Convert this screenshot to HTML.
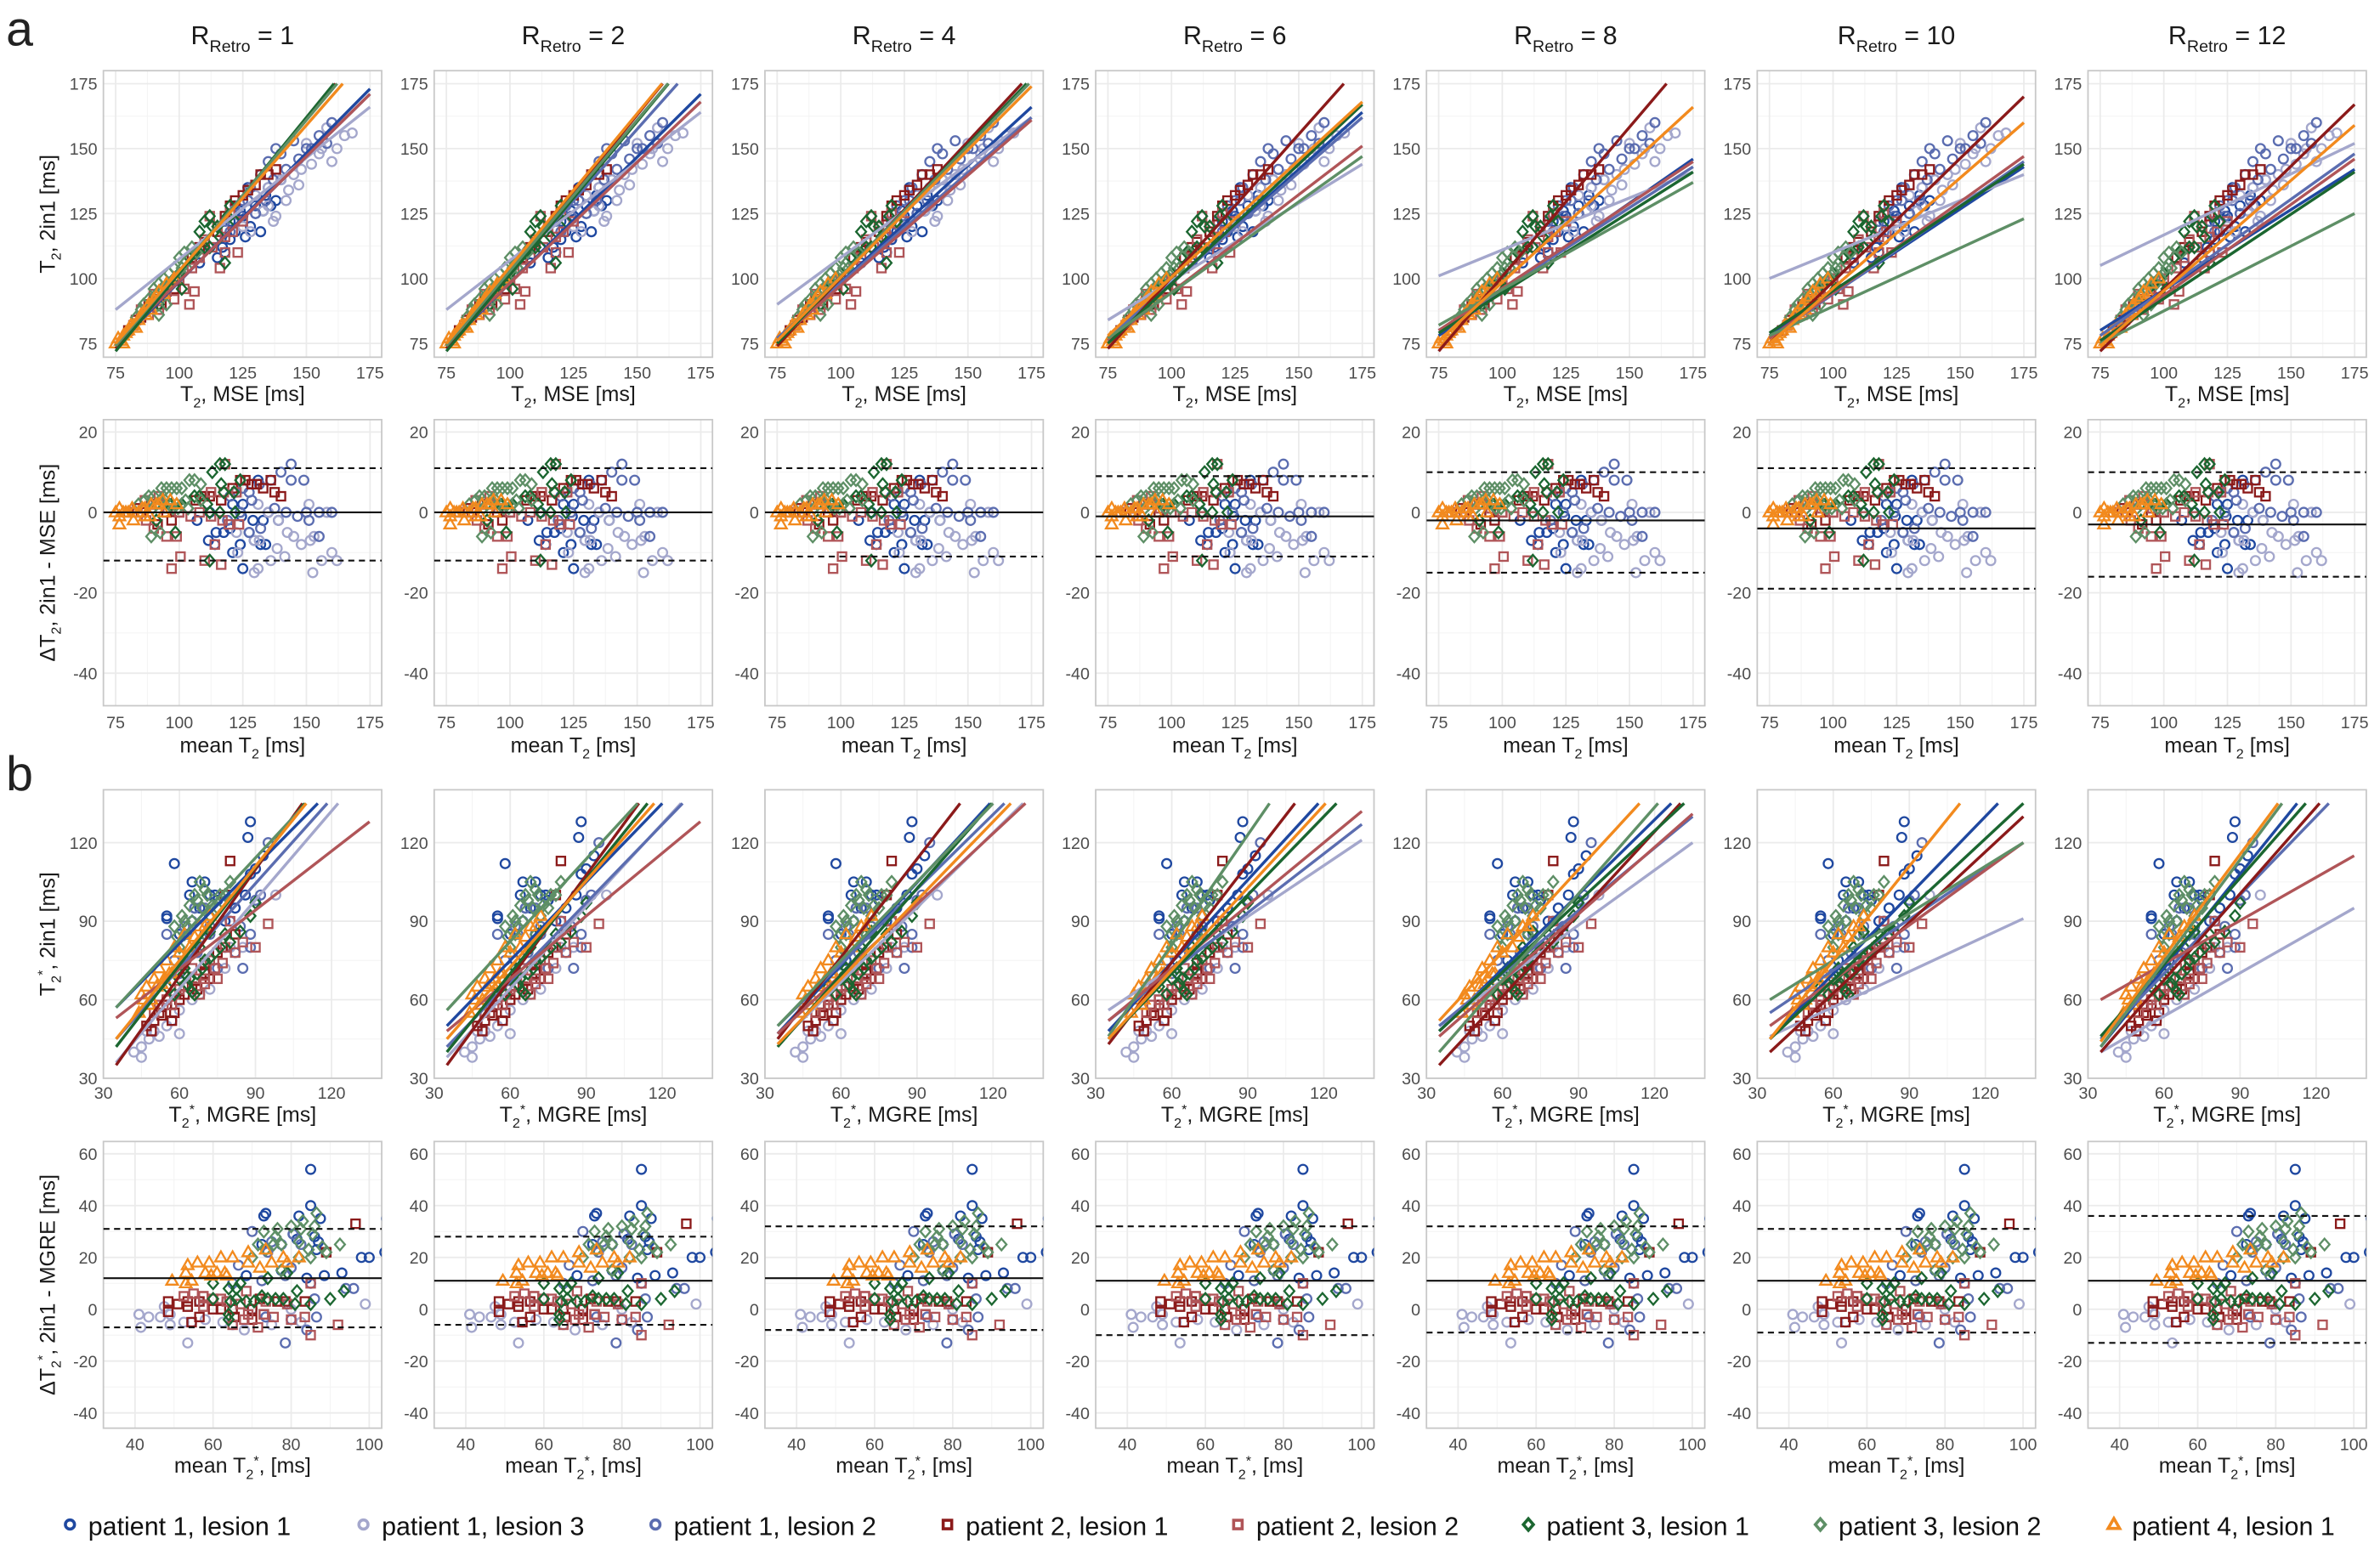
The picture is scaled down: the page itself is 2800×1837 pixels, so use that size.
<!DOCTYPE html>
<html><head><meta charset="utf-8">
<style>
html,body{margin:0;padding:0;background:#fff;}
svg{display:block;}
text{font-family:"Liberation Sans",sans-serif;}
</style></head>
<body>
<svg id="fig" xmlns="http://www.w3.org/2000/svg" width="2800" height="1837" viewBox="0 0 1565 1027" preserveAspectRatio="none">
<rect width="1565" height="1027" fill="#fff"/>
<text x="4" y="30" font-size="32" fill="#222">a</text>
<text x="4" y="520" font-size="32" fill="#222">b</text>
<g id="plots"></g>
<g id="legend"></g>
</svg>
<script>
// ---- data ----
const seriesNames = ["patient 1, lesion 1","patient 1, lesion 3","patient 1, lesion 2","patient 2, lesion 1","patient 2, lesion 2","patient 3, lesion 1","patient 3, lesion 2","patient 4, lesion 1"];
const seriesColors = ["#1f48a0","#a4a7cc","#5b6db0","#8b1a1a","#b05558","#1b6630","#5e8f66","#f28a1e"];
const seriesShapes = ["circle","circle","circle","square","square","diamond","diamond","triangle"];
const rValues = [1,2,4,6,8,10,12];

// T2 points (x: MSE, y: 2in1)
const t2X = [
 [108,112,118,122,125,128,130,133,135,138,127,120, 115,120,126,130,132,134,136,140,124,117],
 [120,125,130,135,140,145,148,150,155,160,165,158,142,137, 128,133,138,143,147,152,156,162,168,135],
 [118,122,128,132,135,138,140,145,150,155,130,125, 120,124,127,134,137,142,147,152,158,160],
 [80,85,90,100,108,115,120,125,130,135,138,95, 83,88,93,98,105,110,118,122,127,132],
 [82,88,92,98,102,104,106,110,112,116,118,123,115,120, 85,90,95,100,105,108,113,118,121,125],
 [90,95,98,100,104,108,110,112,115,118,120,112, 92,96,101,103,106,110,113,116,119,122],
 [85,88,90,92,94,96,98,100,102,95,92,105, 83,86,89,91,93,97,99,101,103,107],
 [75,77,78,80,82,84,86,88,90,92,95,98, 76,78,79,81,83,85,87,89,91,94]];
const t2Y = [
 [106,112,110,118,124,120,128,126,135,130,135,115, 108,122,116,125,118,132,128,138,126,112],
 [125,120,132,128,138,140,142,152,148,145,155,158,130,122, 118,126,124,134,136,144,150,150,156,135],
 [122,128,135,140,145,150,148,153,150,155,125,130, 118,124,130,130,138,142,146,150,152,160],
 [80,85,92,100,112,118,128,132,136,140,142,95, 84,90,90,96,108,114,124,130,134,140],
 [82,86,88,92,96,90,95,115,124,104,110,110,120,125, 88,94,96,100,104,108,112,116,118,122],
 [92,97,100,102,108,118,122,124,120,106,128,112, 90,98,96,104,110,112,120,116,124,122],
 [88,92,96,98,100,102,104,108,110,90,86,112, 85,90,90,94,96,98,100,104,104,110],
 [75,76,78,80,82,84,87,90,92,95,98,100, 77,75,79,82,81,86,86,88,93,94]];
// T2* points (x: MGRE, y: 2in1)
const t2sX = [
 [55,55,58,88,87,65,70,60,68,72,75,88, 62,66,70,74,78,82,86,90,93,64],
 [45,45,48,50,55,60,55,62,70,75,80,98, 42,47,52,57,60,65,68,72,78,85],
 [55,62,65,70,75,82,88,85,90,95,60,72, 58,63,67,72,78,80,84,88,92,66],
 [47,50,52,55,60,70,75,80,65,72,58,78, 49,53,57,62,67,70,74,77,82,55],
 [50,55,62,70,75,78,95,65,72,58,80,68, 52,57,60,66,70,74,77,82,85,90],
 [55,60,62,65,66,70,74,78,90,62,68,72, 58,63,67,69,72,76,80,84,88,64],
 [60,62,64,66,68,70,72,75,58,65,70,76, 59,61,63,67,69,71,73,78,80,62],
 [45,47,50,52,55,58,62,68,72,48,53,57, 44,46,49,51,54,56,60,64,66,70]];
const t2sY = [
 [92,91,112,128,122,105,105,85,95,100,98,108, 75,95,85,100,90,95,100,110,115,100],
 [38,42,45,48,50,47,58,65,70,72,80,100, 40,48,46,52,56,60,62,64,72,80],
 [85,88,90,95,72,78,80,72,98,120,70,85, 75,85,78,88,80,90,88,85,100,95],
 [50,52,55,58,60,74,78,113,65,68,55,100, 48,54,52,62,64,70,72,80,85,60],
 [55,60,65,68,68,80,89,72,75,62,90,62, 58,58,64,68,66,72,74,78,82,80],
 [65,68,70,63,62,75,78,85,97,72,80,86, 62,66,70,72,76,80,82,86,92,68],
 [80,85,96,100,105,102,92,95,88,90,85,100, 84,92,88,98,95,100,96,100,105,90],
 [62,65,68,72,75,80,85,88,92,58,66,70, 55,60,60,65,68,70,78,80,84,88]];

// regression lines, T2 rows: slope and value at x=75, per column
const t2Slope = [
 [0.99,0.78,0.96,1.18,0.96,1.2,1.16,1.12],
 [0.97,0.76,1.1,1.2,0.93,1.18,1.16,1.18],
 [0.9,0.72,0.85,1.05,0.85,1.02,1.0,0.98],
 [0.88,0.6,0.85,1.1,0.75,0.92,0.7,0.9],
 [0.68,0.4,0.63,1.15,0.65,0.62,0.55,0.9],
 [0.65,0.4,0.68,0.95,0.7,0.65,0.45,0.85],
 [0.62,0.47,0.7,0.95,0.7,0.65,0.5,0.85]];
const t2At75 = [
 [74,88,75,73,75,72,74,75],
 [74,88,75,73,75,72,74,75],
 [76,90,77,74,76,75,76,76],
 [76,84,77,73,76,75,77,78],
 [78,101,80,72,80,79,82,76],
 [78,100,77,75,77,79,78,75],
 [80,105,78,72,76,76,75,74]];
// regression lines, T2* rows: slope and value at x=35
const t2sSlope = [
 [0.98,1.13,1.08,1.36,0.75,1.25,1.04,1.2],
 [1.0,1.05,1.0,1.32,0.8,1.2,1.05,1.1],
 [1.05,0.95,0.95,1.25,0.9,1.1,1.0,1.0],
 [1.05,0.65,0.75,1.25,0.8,1.0,1.4,1.05],
 [0.95,0.7,0.8,1.05,0.85,0.9,1.1,1.05],
 [1.0,0.45,0.65,0.9,0.7,0.9,0.6,1.2],
 [1.2,0.55,1.0,1.1,0.55,1.1,1.3,1.3]];
const t2sAt35 = [
 [57,36,45,35,53,42,57,45],
 [50,38,42,35,48,40,56,45],
 [47,43,50,45,47,42,50,43],
 [48,56,52,43,52,45,46,45],
 [48,50,50,35,46,48,40,52],
 [45,46,55,40,50,45,60,45],
 [42,40,45,40,60,46,42,44]];
// Bland-Altman bias and limits per column
const baT2Mean = [0,0,0,-1,-2,-4,-3];
const baT2Upper = [11,11,11,9,10,11,10];
const baT2Lower = [-12,-12,-11,-11,-15,-19,-16];
const baT2sMean = [12,11,12,11,11,11,11];
const baT2sUpper = [31,28,32,32,32,31,36];
const baT2sLower = [-7,-6,-8,-10,-9,-9,-13];

// ticks
const ticksT2 = [75,100,125,150,175];
const ticksBaT2Y = [-40,-20,0,20];
const ticksT2s = [30,60,90,120];
const ticksBaT2sX = [40,60,80,100];
const ticksBaT2sY = [-40,-20,0,20,40,60];

// ---- layout ----
const NS="http://www.w3.org/2000/svg";
const plots=document.getElementById('plots');
const rows=[
 {top:46.5,bot:235,xd:[70.2,179.6],yd:[69.7,180],xt:ticksT2,yt:ticksT2,tickY:249,titleY:264},
 {top:276.1,bot:464.3,xd:[70.2,179.6],yd:[-48.1,23.06],xt:ticksT2,yt:ticksBaT2Y,tickY:479,titleY:495},
 {top:519.6,bot:709.4,xd:[30,139.8],yd:[30,140.2],xt:ticksT2s,yt:ticksT2s,tickY:723,titleY:738},
 {top:751,bot:939.6,xd:[31.9,103.2],yd:[-45.9,64.75],xt:ticksBaT2sX,yt:ticksBaT2sY,tickY:954,titleY:969}];
const BW=183;
function colLeft(c){return 68+c*217.5;}
function mk(tag,attrs,parent){const e=document.createElementNS(NS,tag);for(const k in attrs)e.setAttribute(k,attrs[k]);(parent||plots).appendChild(e);return e;}

function marker(g,shape,cx,cy,color){
  let e;
  if(shape==='circle') e=mk('circle',{cx:cx,cy:cy,r:3},g);
  else if(shape==='square') e=mk('rect',{x:cx-2.8,y:cy-2.8,width:5.6,height:5.6},g);
  else if(shape==='diamond') e=mk('polygon',{points:`${cx},${cy-3.8} ${cx+3.3},${cy} ${cx},${cy+3.8} ${cx-3.3},${cy}`},g);
  else e=mk('polygon',{points:`${cx},${cy-4} ${cx+3.8},${cy+2.6} ${cx-3.8},${cy+2.6}`},g);
  e.setAttribute('fill','none');e.setAttribute('stroke',color);e.setAttribute('stroke-width','1.3');
  
  
  return e;
}

for(let r=0;r<4;r++){
  const R=rows[r];
  for(let c=0;c<7;c++){
    const L=colLeft(c);
    const sx=v=>L+(v-R.xd[0])/(R.xd[1]-R.xd[0])*BW;
    const sy=v=>R.bot-(v-R.yd[0])/(R.yd[1]-R.yd[0])*(R.bot-R.top);
    const g=mk('g',{});
    
    
    const clipId=`clip${r}_${c}`;
    const cp=mk('clipPath',{id:clipId},g);mk('rect',{x:L,y:R.top,width:BW,height:R.bot-R.top},cp);
    for(let i=0;i<R.xt.length-1;i++){const m=(R.xt[i]+R.xt[i+1])/2;mk('line',{x1:sx(m),x2:sx(m),y1:R.top,y2:R.bot,stroke:'#f4f4f4','stroke-width':0.6},g);}
    for(let i=0;i<R.yt.length-1;i++){const m=(R.yt[i]+R.yt[i+1])/2;mk('line',{y1:sy(m),y2:sy(m),x1:L,x2:L+BW,stroke:'#f4f4f4','stroke-width':0.6},g);}
    R.xt.forEach(t=>{mk('line',{x1:sx(t),x2:sx(t),y1:R.top,y2:R.bot,stroke:'#ebebeb','stroke-width':1},g);
      const tx=mk('text',{x:sx(t),y:R.tickY,'font-size':11,'text-anchor':'middle',fill:'#4d4d4d'},g);tx.textContent=t;
      
      });
    R.yt.forEach(t=>{mk('line',{y1:sy(t),y2:sy(t),x1:L,x2:L+BW,stroke:'#ebebeb','stroke-width':1},g);
      const tx=mk('text',{x:L-4,y:sy(t)+4,'font-size':11,'text-anchor':'end',fill:'#4d4d4d'},g);tx.textContent=t;
      
      });
    mk('rect',{x:L,y:R.top,width:BW,height:R.bot-R.top,fill:'none',stroke:'#c8c8c8','stroke-width':1},g);
    const inner=mk('g',{'clip-path':`url(#${clipId})`},g);
    const isT2=r<2;
    const PX=isT2?t2X:t2sX, PY=isT2?t2Y:t2sY;
    for(let s=0;s<8;s++){
      for(let i=0;i<PX[s].length;i++){
        const x=PX[s][i],y=PY[s][i];
        if(r===0||r===2) marker(inner,seriesShapes[s],sx(x),sy(y),seriesColors[s]);
        else marker(inner,seriesShapes[s],sx((x+y)/2),sy(y-x),seriesColors[s]);
      }
    }
    if(r===0||r===2){
      const x0=isT2?75:35, xmax=isT2?175:135, ymax=isT2?175:135;
      for(let s=0;s<8;s++){
        const m=isT2?t2Slope[c][s]:t2sSlope[c][s], b0=isT2?t2At75[c][s]:t2sAt35[c][s];
        let x1=xmax, y1=b0+m*(xmax-x0);
        if(y1>ymax){x1=x0+(ymax-b0)/m;y1=ymax;}
        const ln=mk('line',{x1:sx(x0),y1:sy(b0),x2:sx(x1),y2:sy(y1),stroke:seriesColors[s],'stroke-width':1.9},inner);
        
        
      }
    } else {
      const mean=isT2?baT2Mean[c]:baT2sMean[c], up=isT2?baT2Upper[c]:baT2sUpper[c], lo=isT2?baT2Lower[c]:baT2sLower[c];
      const a=mk('line',{x1:L,x2:L+BW,y1:sy(mean),y2:sy(mean),stroke:'#111','stroke-width':1.2},inner);
      
      
      [up,lo].forEach(v=>{const d=mk('line',{x1:L,x2:L+BW,y1:sy(v),y2:sy(v),stroke:'#111','stroke-width':1.2,'stroke-dasharray':'4,3'},inner);
        
        });
    }
    const xt=mk('text',{x:L+BW/2,y:R.titleY,'font-size':14,'text-anchor':'middle',fill:'#1a1a1a'},g);
    
    
    if(r===0) xt.innerHTML='T<tspan font-size="9" dy="4">2</tspan><tspan dy="-4">, MSE  [ms]</tspan>';
    if(r===1) xt.innerHTML='mean T<tspan font-size="9" dy="4">2</tspan><tspan dy="-4"> [ms]</tspan>';
    if(r===2) xt.innerHTML='T<tspan font-size="9" dy="4">2</tspan><tspan font-size="9" dy="-9">*</tspan><tspan dy="5">, MGRE  [ms]</tspan>';
    if(r===3) xt.innerHTML='mean T<tspan font-size="9" dy="4">2</tspan><tspan font-size="9" dy="-9">*</tspan><tspan dy="5">, [ms]</tspan>';
    if(r===0){
      const ct=mk('text',{x:L+BW/2,y:29,'font-size':17,'text-anchor':'middle',fill:'#1a1a1a'},g);
      
      
      ct.innerHTML=`R<tspan font-size="11" dy="5">Retro</tspan><tspan dy="-5"> = ${rValues[c]}</tspan>`;
    }
  }
  const cy=(R.top+R.bot)/2;
  const yt=mk('text',{x:36,y:cy,'font-size':14,'text-anchor':'middle',fill:'#1a1a1a',transform:`rotate(-90 36 ${cy})`});
  
  
  if(r===0) yt.innerHTML='T<tspan font-size="9" dy="4">2</tspan><tspan dy="-4">, 2in1  [ms]</tspan>';
  if(r===1) yt.innerHTML='ΔT<tspan font-size="9" dy="4">2</tspan><tspan dy="-4">, 2in1 - MSE  [ms]</tspan>';
  if(r===2) yt.innerHTML='T<tspan font-size="9" dy="4">2</tspan><tspan font-size="9" dy="-9">*</tspan><tspan dy="5">, 2in1  [ms]</tspan>';
  if(r===3) yt.innerHTML='ΔT<tspan font-size="9" dy="4">2</tspan><tspan font-size="9" dy="-9">*</tspan><tspan dy="5">, 2in1 - MGRE  [ms]</tspan>';
}
const leg=document.getElementById('legend');
const legX=[46,239,431,623,814,1005,1197,1390];
for(let s=0;s<8;s++){
  const g=mk('g',{},leg);
  
  
  const m=marker(g,seriesShapes[s],legX[s],1003,seriesColors[s]);
  m.setAttribute('stroke-width','2');
  const t=mk('text',{x:legX[s]+12,y:1010,'font-size':17,fill:'#111'},g);
  t.textContent=seriesNames[s];
}
</script>
</body></html>
